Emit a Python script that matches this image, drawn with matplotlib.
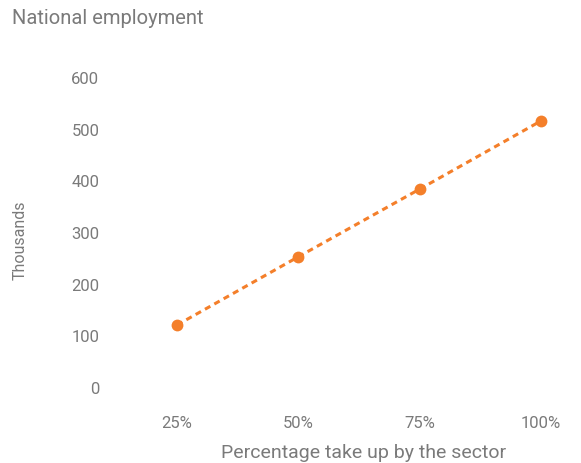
import matplotlib.pyplot as plt

# take-up share and resulting national employment (thousands)
take_up = ['25%', '50%', '75%', '100%']
employment = [120, 252, 383, 515]

plt.rcParams['font.family'] = ['Roboto', 'DejaVu Sans']
grey = '#7a7a7a'
orange = '#f47f2a'

fig = plt.figure(figsize=(5.81, 4.64), dpi=100)
ax = fig.add_axes([116 / 581, 76 / 464, 465 / 581, 310 / 464])

x = range(len(take_up))
ax.plot(x, employment, linestyle=(0, (2, 1.5)), color=orange, linewidth=2.2,
        marker='o', markersize=8.5, markeredgewidth=0)

ax.set_xlim(-0.503, 3.33)
ax.set_ylim(0, 600)
ax.set_yticks(range(0, 601, 100))
ax.set_xticks(list(x))
ax.set_xticklabels(take_up)

for s in ax.spines.values():
    s.set_visible(False)
ax.tick_params(length=0, colors=grey, labelsize=12)
ax.tick_params(axis='y', pad=12)
ax.tick_params(axis='x', pad=20)

ax.set_xlabel('Percentage take up by the sector', color=grey, fontsize=14, va='center')
ax.xaxis.set_label_coords(0.533, -0.21)
fig.text(20 / 581, 1 - 240 / 464, 'Thousands', rotation=90, color=grey,
         fontsize=11.5, ha='center', va='center')
fig.text(12 / 581, 1 - 19 / 464, 'National employment', color=grey, fontsize=14.5,
         ha='left', va='center')

fig.savefig('out.png', dpi=100)
